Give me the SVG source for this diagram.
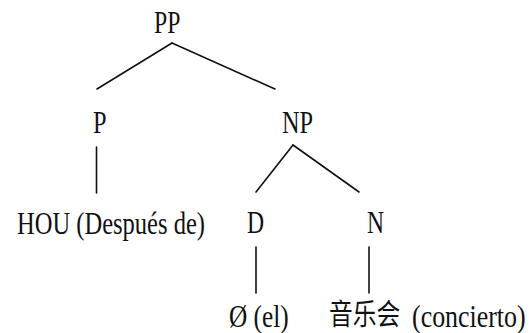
<svg xmlns="http://www.w3.org/2000/svg" width="531" height="333" viewBox="0 0 531 333">
<style>
  .lbl { font-family: "Liberation Serif", "Times New Roman", serif; font-size: 32px; fill: #111; }
  .cjk { font-family: "Noto Sans CJK SC", sans-serif; font-size: 29px; fill: #111; }
  .edge { stroke: #111; stroke-width: 1.6; fill: none; stroke-linecap: round; }
</style>
<rect width="531" height="333" fill="#fff"/>
<g id="connectors">
  <line class="edge" x1="172" y1="43" x2="97" y2="89"/>
  <line class="edge" x1="172" y1="43" x2="275" y2="89"/>
  <line class="edge" x1="96.5" y1="147" x2="96.5" y2="193"/>
  <line class="edge" x1="293" y1="145" x2="256" y2="192"/>
  <line class="edge" x1="293" y1="145" x2="359" y2="192"/>
  <line class="edge" x1="256" y1="247" x2="256" y2="293"/>
  <line class="edge" x1="369" y1="247" x2="369" y2="293"/>
</g>
<g id="node-PP"><text class="lbl" transform="translate(154,33) scale(0.74,1)">PP</text></g>
<g id="node-P"><text class="lbl" transform="translate(93,132.5) scale(0.76,1)">P</text></g>
<g id="node-NP"><text class="lbl" transform="translate(282,132.5) scale(0.76,1)">NP</text></g>
<g id="node-HOU"><text class="lbl" transform="translate(17,233.5) scale(0.767,1)">HOU (Después de)</text></g>
<g id="node-D"><text class="lbl" transform="translate(247,233) scale(0.74,1)">D</text></g>
<g id="node-N"><text class="lbl" transform="translate(367,233) scale(0.74,1)">N</text></g>
<g id="node-el"><text class="lbl" transform="translate(229,326.5) scale(0.79,1)">Ø (el)</text></g>
<g id="node-concierto">
  <text class="cjk" transform="translate(329,324.5) scale(0.82,1)">音乐会</text>
  <text class="lbl" transform="translate(412,326.5) scale(0.81,1)">(concierto)</text>
</g>
</svg>
